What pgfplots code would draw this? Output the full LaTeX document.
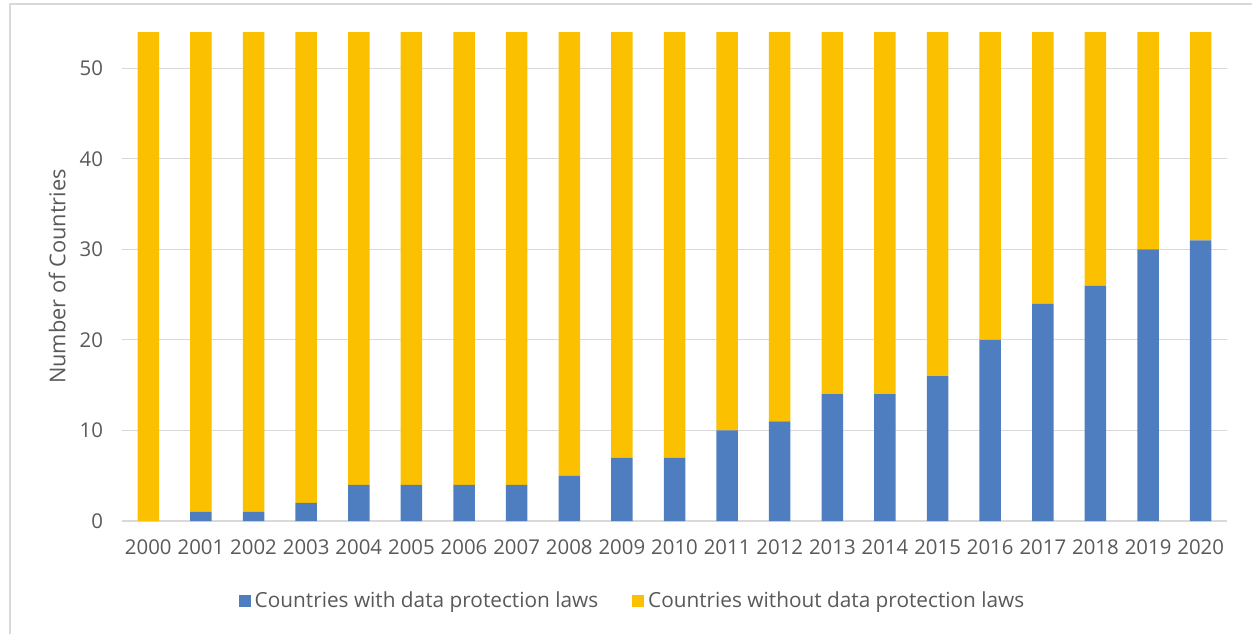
\documentclass[border=0pt]{standalone}
\usepackage{pgfplots}
\pgfplotsset{compat=1.18}
\usepackage{fontspec}
\setmainfont{Open Sans}
\definecolor{txt}{HTML}{595959}
\definecolor{grd}{HTML}{D9D9D9}
\definecolor{cblue}{HTML}{4E7EC0}
\definecolor{cyel}{HTML}{FBC000}
\begin{document}
\begin{tikzpicture}[x=1pt,y=1pt]
\path[use as bounding box] (0,0) rectangle (626,317);
\draw[grd,line width=0.6pt] (5,0) -- (5,315) -- (626,315);
\begin{axis}[
  at={(61pt,56.5pt)}, anchor=south west,
  scale only axis, width=552.5pt, height=244.5pt,
  ybar stacked, bar width=10.75pt,
  xmin=-0.5, xmax=20.5, ymin=0, ymax=54,
  xtick={0,...,20},
  xticklabels={2000,2001,2002,2003,2004,2005,2006,2007,2008,2009,2010,2011,2012,2013,2014,2015,2016,2017,2018,2019,2020},
  ytick={0,10,...,50},
  ymajorgrids, grid style={grd,line width=0.6pt},
  axis line style={draw=none},
  major tick length=0pt,
  tick label style={font=\fontsize{10.2}{12}\selectfont, text=txt},
  /pgf/number format/assume math mode=true,
  yticklabel style={xshift=-6pt},
  xticklabel style={yshift=-6pt},
  ylabel={Number of Countries},
  ylabel style={font=\fontsize{10.9}{13}\selectfont, text=txt, at={(axis description cs:-0.0588,0.5)}, anchor=center},
  legend columns=2,
  legend style={draw=none, fill=none, at={(0.4629,-0.1636)}, anchor=center,
    font=\fontsize{10.4}{12}\selectfont, text=txt,
    /tikz/every even column/.append style={column sep=15pt}},
  legend image code/.code={\fill[#1] (0pt,-3pt) rectangle (6pt,3pt);},
]
\addplot[fill=cblue, draw=none] coordinates {
(0,0) (1,1) (2,1) (3,2) (4,4) (5,4) (6,4) (7,4) (8,5) (9,7) (10,7)
(11,10) (12,11) (13,14) (14,14) (15,16) (16,20) (17,24) (18,26) (19,30) (20,31)};
\addlegendentry{Countries with data protection laws}
\addplot[fill=cyel, draw=none] coordinates {
(0,54) (1,53) (2,53) (3,52) (4,50) (5,50) (6,50) (7,50) (8,49) (9,47) (10,47)
(11,44) (12,43) (13,40) (14,40) (15,38) (16,34) (17,30) (18,28) (19,24) (20,23)};
\addlegendentry{Countries without data protection laws}
\end{axis}
\end{tikzpicture}
\end{document}
